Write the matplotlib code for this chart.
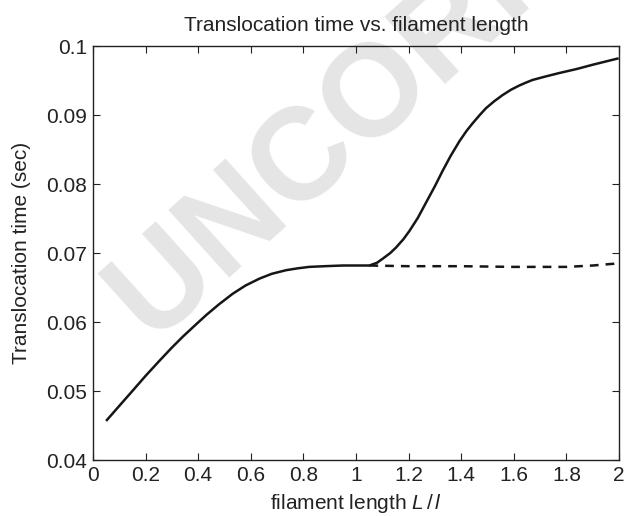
import matplotlib
matplotlib.use("Agg")
import matplotlib.pyplot as plt

plt.rcParams["font.family"] = ["Liberation Sans", "DejaVu Sans"]
plt.rcParams["font.size"] = 15
plt.rcParams["mathtext.fontset"] = "custom"
plt.rcParams["mathtext.rm"] = "Liberation Sans"
plt.rcParams["mathtext.it"] = "Liberation Sans:italic"

# solid curve: translocation time vs filament length
length = [0.053, 0.1, 0.152, 0.2, 0.253, 0.3, 0.342, 0.39, 0.43, 0.48,
          0.531, 0.58, 0.633, 0.68, 0.734, 0.78, 0.822, 0.88, 0.949, 1.013,
          1.051, 1.08, 1.102, 1.13, 1.152, 1.18, 1.203, 1.235, 1.266, 1.3,
          1.329, 1.36, 1.393, 1.42, 1.443, 1.47, 1.494, 1.525, 1.557, 1.59,
          1.621, 1.645, 1.671, 1.72, 1.772, 1.84, 1.899, 1.994]
time_solid = [0.0458, 0.04785, 0.0501, 0.0522, 0.0544, 0.0563, 0.0579,
              0.0596, 0.0610, 0.0626, 0.0641, 0.0653, 0.0663, 0.0670,
              0.06752, 0.0678, 0.0680, 0.0681, 0.0682, 0.0682, 0.0682,
              0.0686, 0.0692, 0.0700, 0.0708, 0.0720, 0.0732, 0.0751,
              0.0773, 0.0797, 0.0819, 0.0841, 0.0862, 0.0877, 0.0888,
              0.0900, 0.0910, 0.0920, 0.0929, 0.0937, 0.0943, 0.0947,
              0.0951, 0.0956, 0.0961, 0.0967, 0.0973, 0.0982]

# dashed curve
length_dash = [1.051, 1.2, 1.4, 1.6, 1.7, 1.8, 1.9, 1.994]
time_dash = [0.0682, 0.0681, 0.0681, 0.0680, 0.0680, 0.0680, 0.0682, 0.0685]

fig = plt.figure(figsize=(6.24, 5.16), dpi=100)
ax = fig.add_axes([0.149, 0.1085, 0.843, 0.802])
ax.set_facecolor("none")
ax.set_zorder(2)

# watermark behind the plot
fig.text(0.246, 0.328, "UNCORRECTED PROOF", fontsize=94, fontweight="bold",
         color="#e5e5e5", rotation=42, rotation_mode="anchor",
         ha="left", va="baseline", zorder=0)

ax.plot(length, time_solid, color="#161616", lw=1.8)
ax.plot(length_dash, time_dash, color="#161616", lw=1.8, dashes=(3.5, 2.8))

ax.set_xlim(0, 2)
ax.set_ylim(0.04, 0.1)
ax.set_xticks([0, 0.2, 0.4, 0.6, 0.8, 1, 1.2, 1.4, 1.6, 1.8, 2])
ax.set_xticklabels(["0", "0.2", "0.4", "0.6", "0.8", "1", "1.2", "1.4", "1.6", "1.8", "2"])
ax.set_yticks([0.04, 0.05, 0.06, 0.07, 0.08, 0.09, 0.1])
ax.set_yticklabels(["0.04", "0.05", "0.06", "0.07", "0.08", "0.09", "0.1"])
ax.tick_params(direction="in", top=True, right=True, length=5, width=0.8, pad=4,
               colors="#222222")
for s in ax.spines.values():
    s.set_linewidth(1.0)
    s.set_color("#222222")

ax.set_title("Translocation time vs. filament length", fontsize=15, pad=11,
             color="#222222")
ax.set_xlabel("filament length $\\mathit{L}\\,/\\,\\mathit{l}$", labelpad=5,
              color="#222222")
ax.set_ylabel("Translocation time (sec)", labelpad=11, color="#222222")

fig.savefig("out.png", dpi=100)
